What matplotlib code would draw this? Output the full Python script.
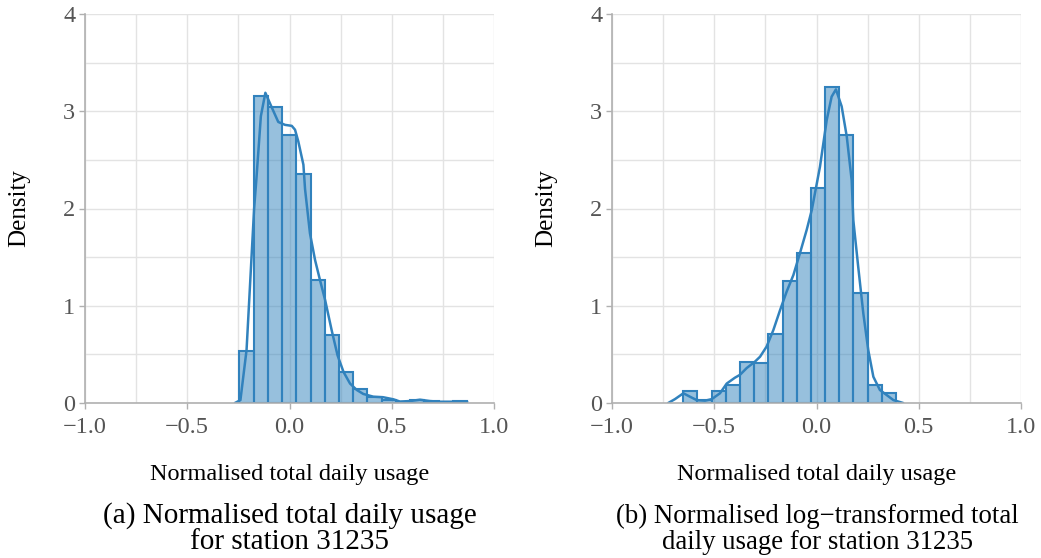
import matplotlib
matplotlib.use("Agg")
import matplotlib.pyplot as plt
from matplotlib.ticker import MultipleLocator
import numpy as np

plt.rcParams['font.family'] = ['Liberation Serif', 'DejaVu Serif']

# (a) raw usage: histogram bin edges and densities
raw_edges = [-0.246, -0.176, -0.107, -0.037, 0.033, 0.103, 0.172, 0.242, 0.312,
             0.381, 0.451, 0.521, 0.590, 0.660, 0.730, 0.800, 0.869]
raw_density = [0.53, 3.16, 3.04, 2.76, 2.35, 1.265, 0.70, 0.316, 0.14, 0.058,
               0.03, 0.01, 0.03, 0.02, 0.015, 0.02]
# kde curve
raw_kde_x = [-0.267, -0.24, -0.21, -0.173, -0.162, -0.14, -0.118, -0.089, -0.055,
             -0.022, 0.011, 0.027, 0.043, 0.068, 0.076, 0.10, 0.125, 0.149, 0.174,
             0.206, 0.235, 0.264, 0.296, 0.329, 0.361, 0.41, 0.459, 0.508, 0.54,
             0.589, 0.638, 0.687, 0.736, 0.80, 0.869]
raw_kde_y = [0.0, 0.03, 0.545, 2.0, 2.3, 2.95, 3.19, 3.05, 2.89, 2.86, 2.85, 2.81,
             2.69, 2.45, 2.2, 1.745, 1.47, 1.265, 1.06, 0.75, 0.49, 0.32, 0.2,
             0.134, 0.093, 0.065, 0.059, 0.038, 0.015, 0.02, 0.034, 0.02, 0.013,
             0.013, 0.013]

# (b) log-transformed usage
log_edges = [-0.651, -0.582, -0.512, -0.443, -0.374, -0.305, -0.235, -0.166,
             -0.097, -0.027, 0.042, 0.111, 0.180, 0.250, 0.319, 0.388]
log_density = [0.123, 0.03, 0.123, 0.19, 0.42, 0.41, 0.71, 1.255, 1.54, 2.21,
               3.246, 2.756, 1.128, 0.19, 0.10]
log_kde_x = [-0.725, -0.692, -0.651, -0.619, -0.586, -0.545, -0.512, -0.472,
             -0.439, -0.399, -0.374, -0.341, -0.301, -0.276, -0.244, -0.211,
             -0.178, -0.146, -0.113, -0.081, -0.048, -0.023, 0.017, 0.05, 0.074,
             0.095, 0.123, 0.148, 0.172, 0.18, 0.204, 0.229, 0.253, 0.278, 0.31,
             0.343, 0.376, 0.424]
log_kde_y = [0.0, 0.04, 0.10, 0.065, 0.03, 0.024, 0.04, 0.10, 0.20, 0.26, 0.29,
             0.36, 0.425, 0.476, 0.58, 0.75, 0.956, 1.145, 1.316, 1.54, 1.78,
             1.985, 2.43, 2.91, 3.15, 3.225, 3.05, 2.74, 2.29, 1.88, 1.40, 0.92,
             0.545, 0.27, 0.134, 0.082, 0.03, 0.0]

x_ticks = [-1.0, -0.5, 0.0, 0.5, 1.0]
y_ticks = [0, 1, 2, 3, 4]

BLUE = '#3182bd'
W, H = 1041, 558


def draw_panel(ax, edges, dens, kx, ky):
    edges = np.asarray(edges)
    ax.bar(edges[:-1], dens, width=np.diff(edges), align='edge',
           facecolor=(0x31 / 255, 0x82 / 255, 0xbd / 255, 0.5),
           edgecolor=BLUE, linewidth=1.5, zorder=3)
    ax.plot(kx, ky, color=BLUE, linewidth=1.8, zorder=4, solid_capstyle='round')
    ax.set_xlim(-1.0, 1.0)
    ax.set_ylim(0, 4)
    ax.set_xticks(x_ticks)
    ax.set_xticklabels([f"{t:.1f}".replace('-', '\u2212') for t in x_ticks])
    ax.set_yticks(y_ticks)
    ax.xaxis.set_minor_locator(MultipleLocator(0.25))
    ax.yaxis.set_minor_locator(MultipleLocator(0.5))
    ax.grid(which='both', color='#e3e3e3', linewidth=1.0, zorder=0)
    ax.set_axisbelow(True)
    for s in ['top', 'right']:
        ax.spines[s].set_visible(False)
    for s in ['left', 'bottom']:
        ax.spines[s].set_color('#b0b0b0')
        ax.spines[s].set_linewidth(1.2)
        ax.spines[s].set_zorder(5)
    ax.tick_params(which='major', length=4, width=1, color='#b0b0b0',
                   labelsize=17.5, labelcolor='#555555')
    ax.tick_params(axis='x', which='major', pad=6)
    ax.tick_params(axis='y', which='major', pad=3)
    ax.tick_params(which='minor', length=0)
    ax.set_xlabel("Normalised total daily usage", fontsize=17.5)
    ax.xaxis.set_label_coords(0.5, -0.158)
    ax.set_ylabel("Density", fontsize=18)
    ax.yaxis.set_label_coords(-0.135, 0.5)


fig = plt.figure(figsize=(W / 100, H / 100), dpi=100)
ax1 = fig.add_axes([85 / W, 1 - 403 / H, 409 / W, 389 / H])
ax2 = fig.add_axes([612 / W, 1 - 403 / H, 409 / W, 389 / H])

draw_panel(ax1, raw_edges, raw_density, raw_kde_x, raw_kde_y)
draw_panel(ax2, log_edges, log_density, log_kde_x, log_kde_y)

# sub-figure captions
fig.text(289.5 / W, 1 - 523 / H, "(a) Normalised total daily usage",
         ha='center', va='baseline', fontsize=21)
fig.text(289.5 / W, 1 - 549 / H, "for station 31235",
         ha='center', va='baseline', fontsize=21)
fig.text(817 / W, 1 - 523 / H, "(b) Normalised log\u2212transformed total",
         ha='center', va='baseline', fontsize=19.3)
fig.text(817 / W, 1 - 549 / H, "daily usage for station 31235",
         ha='center', va='baseline', fontsize=19.3)

fig.savefig("out.png", dpi=100)
